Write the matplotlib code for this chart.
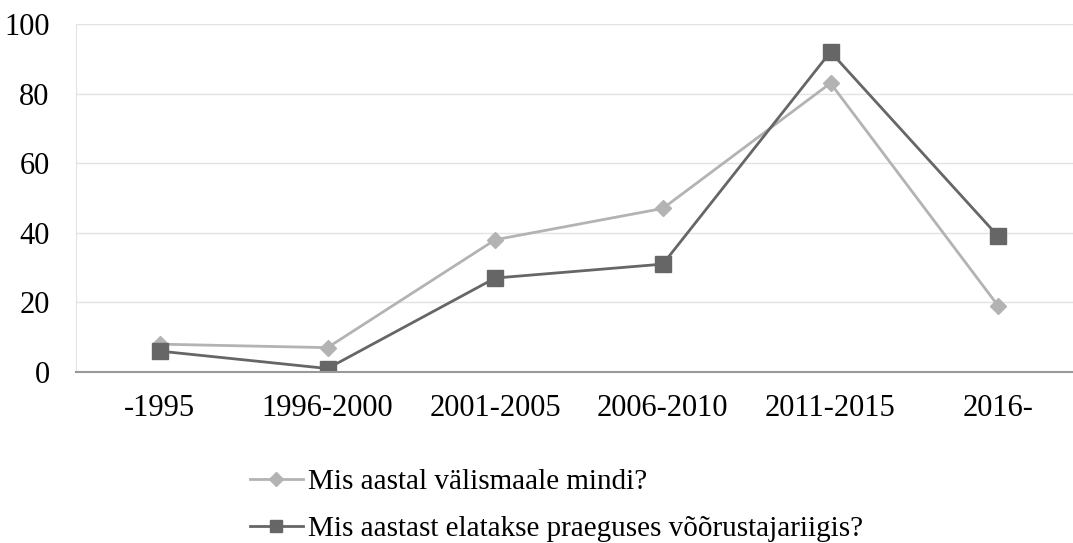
import numpy as np
from matplotlib import pyplot as plt
from matplotlib.lines import Line2D

plt.rcParams['font.family'] = ['Liberation Serif', 'DejaVu Serif']

categories = ['-1995', '1996-2000', '2001-2005', '2006-2010', '2011-2015', '2016-']
left_year = [8, 7, 38, 47, 83, 19]
living_since = [6, 1, 27, 31, 92, 39]
label_left = 'Mis aastal välismaale mindi?'
label_living = 'Mis aastast elatakse praeguses võõrustajariigis?'

light = '#b3b3b3'
dark = '#666666'

fig = plt.figure(figsize=(10.73, 5.43), dpi=100)
ax = fig.add_axes([76 / 1073, 1 - 372 / 543, (1082 - 76) / 1073, (372 - 24) / 543])

x = np.arange(len(categories))
ax.plot(x, left_year, color=light, lw=2, marker='D', ms=8, label=label_left)
ax.plot(x, living_since, color=dark, lw=2, marker='s', ms=11.5, label=label_living)

ax.set_xlim(-0.5, len(categories) - 0.5)
ax.set_ylim(0, 100)
ax.set_yticks(range(0, 101, 20))
ax.set_xticks(x)
ax.set_xticklabels(categories)
ax.tick_params(axis='both', length=0, labelsize=22)
ax.tick_params(axis='x', pad=16)
ax.tick_params(axis='y', pad=19)
ax.yaxis.grid(True, color='#e3e3e3', lw=1)
ax.set_axisbelow(True)
for s in ['top', 'right']:
    ax.spines[s].set_visible(False)
ax.spines['left'].set_color('#e3e3e3')
ax.spines['bottom'].set_color('#999999')
ax.spines['bottom'].set_linewidth(1.5)

handles = [Line2D([], [], color=light, lw=2, marker='D', ms=7),
           Line2D([], [], color=dark, lw=2, marker='s', ms=9)]
fig.legend(handles, [label_left, label_living], loc='upper left',
           bbox_to_anchor=(250 / 1073, 1 - 469 / 543), frameon=False,
           borderpad=0, borderaxespad=0,
           fontsize=21, handlelength=1.8, handletextpad=0.2, labelspacing=0.7)

fig.savefig('out.png', dpi=100)
